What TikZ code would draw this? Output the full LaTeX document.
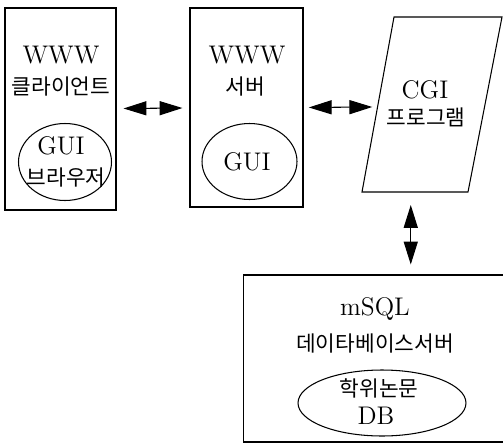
\documentclass[tikz,border=0pt]{standalone}
\usepackage{fontspec}
\newfontfamily\kr{Noto Sans CJK KR}[Scale=0.84]
\usetikzlibrary{arrows.meta, calc, shapes.geometric}
\tikzset{%
    box/.style={draw, line width=0.6pt, rectangle, inner sep=0pt},
    ell/.style={draw, line width=0.6pt, ellipse, inner sep=0pt},
    txt/.style={inner sep=0pt, font=\fontsize{14.5}{16}\selectfont},
    dar/.style={line width=0.6pt, {Triangle[length=13pt,width=8pt]}-{Triangle[length=13pt,width=8pt]}},
}
\begin{document}
\begin{tikzpicture}[x=0.02cm,y=-0.02cm]
    \useasboundingbox (0,0) rectangle (503,446);
    \clip (0,0) rectangle (503,446);
    % client
    \node[box, minimum width=2.22cm, minimum height=4.04cm] (client) at (60.5,109) {};
    \node[txt] (clientA) at (61,55) {WWW};
    \node[txt] (clientB) at (61,86) {\kr 클라이언트};
    \node[ell, minimum width=1.86cm, minimum height=1.54cm] (browser) at (65,162) {};
    \node[txt] (browserA) at (61,146) {GUI};
    \node[txt] (browserB) at (66,177) {\kr 브라우저};
    % server
    \node[box, minimum width=2.26cm, minimum height=3.98cm] (server) at (246.5,107.5) {};
    \node[txt] (serverA) at (247,55) {WWW};
    \node[txt] (serverB) at (245,86) {\kr 서버};
    \node[ell, minimum width=1.9cm, minimum height=1.52cm] (gui) at (249.5,161.5) {};
    \node[txt] (guiA) at (247,162) {GUI};
    % cgi
    \draw[line width=0.6pt] (394,17) coordinate (cgiNW) -- (502,17) coordinate (cgiNE)
        -- (468,192) coordinate (cgiSE) -- (362,192) coordinate (cgiSW) -- cycle;
    \coordinate (cgiW) at ($(cgiNW)!0.514!(cgiSW)$);
    \coordinate (cgiS) at ($(cgiSW)!0.46!(cgiSE)$);
    \node[txt] (cgiA) at (425,90) {CGI};
    \node[txt] (cgiB) at (426,117) {\kr 프로그램};
    % db server
    \node[box, minimum width=5.4cm, minimum height=3.34cm] (dbsrv) at (378,358.5) {};
    \node[txt] (dbsrvA) at (375,309) {mSQL};
    \node[txt] (dbsrvB) at (375,343) {\kr 데이타베이스서버};
    \node[ell, minimum width=3.36cm, minimum height=1.32cm] (thesis) at (382,403) {};
    \node[txt] (thesisA) at (379,388) {\kr 학위논문};
    \node[txt] (thesisB) at (376,416) {DB};
    % links
    \draw[dar, shorten <=4pt, shorten >=4pt] (client) -- (server);
    \draw[dar, shorten <=3pt, shorten >=3pt] (server.east) -- (cgiW);
    \draw[dar, shorten <=7.4pt, shorten >=5.7pt] (cgiS) -- (cgiS |- dbsrv.north);
\end{tikzpicture}
\end{document}
